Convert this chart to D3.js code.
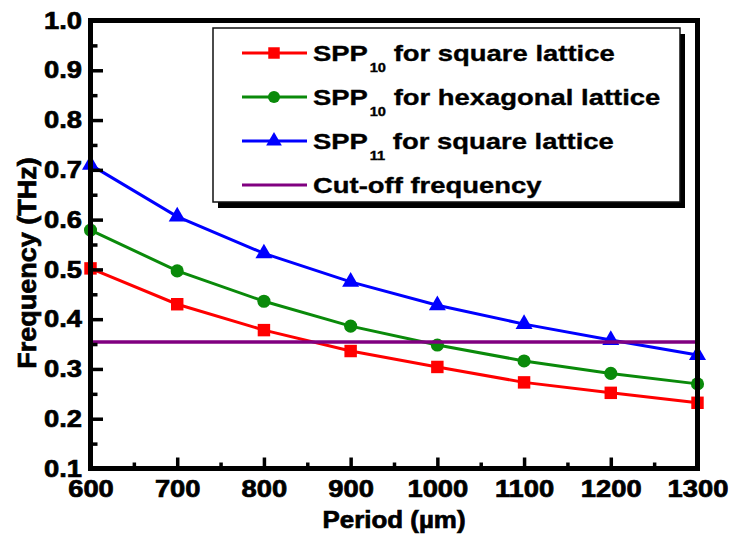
<!DOCTYPE html>
<html>
<head>
<meta charset="utf-8">
<script src="https://cdn.jsdelivr.net/npm/d3@7/dist/d3.min.js"></script>
<style>
  html, body { margin: 0; padding: 0; background: #fff; }
  svg { display: block; }
  text { font-family: "Liberation Sans", Arial, sans-serif; font-weight: bold; fill: #000; }
  .heavy { stroke: #000; stroke-width: 0.7px; }
  .legend-text { stroke: #000; stroke-width: 0.35px; }
</style>
</head>
<body>
<svg id="chart" width="731" height="535"></svg>
<script>
// Period (µm) on the x axis
const periods = [600, 700, 800, 900, 1000, 1100, 1200, 1300];

// Resonance frequencies (THz)
const spp10Square    = [0.502, 0.430, 0.378, 0.336, 0.304, 0.273, 0.252, 0.232];
const spp10Hexagonal = [0.579, 0.497, 0.436, 0.386, 0.348, 0.316, 0.291, 0.270];
const spp11Square    = [0.710, 0.606, 0.532, 0.475, 0.428, 0.390, 0.358, 0.328];
const cutoffFrequency = 0.354;

// Axis ticks
const xTicks = [600, 700, 800, 900, 1000, 1100, 1200, 1300];
const xMinorTicks = [650, 750, 850, 950, 1050, 1150, 1250];
const yTicks = [0.1, 0.2, 0.3, 0.4, 0.5, 0.6, 0.7, 0.8, 0.9, 1.0];
const yMinorTicks = [0.15, 0.25, 0.35, 0.45, 0.55, 0.65, 0.75, 0.85, 0.95];

const seriesNames = [
  { main: "SPP", sub: "10", rest: " for square lattice" },
  { main: "SPP", sub: "10", rest: " for hexagonal lattice" },
  { main: "SPP", sub: "11", rest: " for square lattice" },
  { main: "Cut-off frequency", sub: "", rest: "" }
];

const series = [
  { values: spp10Square,    color: "#ff0000", symbol: d3.symbolSquare,   size: 155 },
  { values: spp10Hexagonal, color: "#0a8a0a", symbol: d3.symbolCircle,   size: 135 },
  { values: spp11Square,    color: "#0000ff", symbol: d3.symbolTriangle, size: 125 }
];
const cutoffColor = "#800080";

const svg = d3.select("#chart");
const plot = { left: 90.5, right: 697.5, top: 20.5, bottom: 468.5 };
const textStretch = 1.14;

const x = d3.scaleLinear().domain([600, 1300]).range([plot.left, plot.right]);
const y = d3.scaleLinear().domain([0.1, 1.0]).range([plot.bottom, plot.top]);

// Data lines and markers
const line = d3.line().x((d, i) => x(periods[i])).y(d => y(d));
series.forEach(s => {
  svg.append("path")
    .attr("d", line(s.values))
    .attr("fill", "none")
    .attr("stroke", s.color)
    .attr("stroke-width", 3);
  svg.append("g").selectAll("path")
    .data(s.values)
    .join("path")
    .attr("transform", (d, i) => `translate(${x(periods[i])},${y(d)})`)
    .attr("d", d3.symbol().type(s.symbol).size(s.size))
    .attr("fill", s.color);
});

// Cut-off frequency line
svg.append("line")
  .attr("x1", x(600)).attr("x2", x(1300))
  .attr("y1", y(cutoffFrequency)).attr("y2", y(cutoffFrequency))
  .attr("stroke", cutoffColor)
  .attr("stroke-width", 3.5);

// Axes with inward ticks
function styleAxis(g) {
  g.select(".domain").remove();
  g.selectAll(".tick line").attr("stroke", "#000").attr("stroke-width", 3.5);
}

svg.append("g")
  .attr("transform", `translate(0,${plot.bottom})`)
  .call(d3.axisBottom(x).tickValues(xMinorTicks).tickSizeInner(-6).tickSizeOuter(0).tickFormat(""))
  .call(styleAxis);

const xAxis = svg.append("g")
  .attr("transform", `translate(0,${plot.bottom})`)
  .call(d3.axisBottom(x).tickValues(xTicks).tickSizeInner(-11).tickSizeOuter(0).tickPadding(11).tickFormat(d3.format("d")))
  .call(styleAxis);
xAxis.selectAll(".tick text")
  .attr("class", "heavy")
  .attr("font-size", 24)
  .attr("font-family", null)
  .attr("transform", `scale(${textStretch},1)`);

svg.append("g")
  .attr("transform", `translate(${plot.left},0)`)
  .call(d3.axisLeft(y).tickValues(yMinorTicks).tickSizeInner(-7).tickSizeOuter(0).tickFormat(""))
  .call(styleAxis);

const yAxis = svg.append("g")
  .attr("transform", `translate(${plot.left},0)`)
  .call(d3.axisLeft(y).tickValues(yTicks).tickSizeInner(-12.5).tickSizeOuter(0).tickPadding(8.5).tickFormat(d3.format(".1f")))
  .call(styleAxis);
yAxis.selectAll(".tick text")
  .attr("class", "heavy")
  .attr("font-size", 24)
  .attr("font-family", null)
  .attr("x", -8.5 / textStretch)
  .attr("transform", `scale(${textStretch},1)`);

// Frame around the plot area
svg.append("rect")
  .attr("x", plot.left).attr("y", plot.top)
  .attr("width", plot.right - plot.left).attr("height", plot.bottom - plot.top)
  .attr("fill", "none")
  .attr("stroke", "#000")
  .attr("stroke-width", 5);

// Axis titles
svg.append("text")
  .attr("class", "heavy")
  .attr("transform", `translate(${(plot.left + plot.right) / 2},528) scale(1.08,1)`)
  .attr("text-anchor", "middle")
  .attr("font-size", 24)
  .text("Period (µm)");

svg.append("text")
  .attr("class", "heavy")
  .attr("transform", "translate(36,263) rotate(-90) scale(1.08,1)")
  .attr("text-anchor", "middle")
  .attr("font-size", 25)
  .text("Frequency (THz)");

// Legend with drop shadow
const legend = { x: 213, y: 28, w: 467, h: 174 };
svg.append("rect")
  .attr("x", legend.x + 5).attr("y", legend.y + 6)
  .attr("width", legend.w).attr("height", legend.h)
  .attr("fill", "#000");
svg.append("rect")
  .attr("x", legend.x).attr("y", legend.y)
  .attr("width", legend.w).attr("height", legend.h)
  .attr("fill", "#fff")
  .attr("stroke", "#111")
  .attr("stroke-width", 1.5);

const legendRows = [53, 97, 141, 185];
const legendColors = [series[0].color, series[1].color, series[2].color, cutoffColor];
legendRows.forEach((ry, i) => {
  svg.append("line")
    .attr("x1", 242).attr("x2", 307)
    .attr("y1", ry).attr("y2", ry)
    .attr("stroke", legendColors[i])
    .attr("stroke-width", 3);
  if (i < series.length) {
    svg.append("path")
      .attr("transform", `translate(274,${ry})`)
      .attr("d", d3.symbol().type(series[i].symbol).size(series[i].size * 0.85))
      .attr("fill", legendColors[i]);
  }
  const t = svg.append("text")
    .attr("class", "legend-text")
    .attr("transform", `translate(313,${ry + 8}) scale(1.22,1)`)
    .attr("font-size", 22.5);
  const name = seriesNames[i];
  t.append("tspan").text(name.main);
  if (name.sub) {
    t.append("tspan").attr("font-size", 12).attr("dx", 1.5).attr("dy", 11).text(name.sub);
    t.append("tspan").attr("dy", -11).text(name.rest);
  }
});
</script>
</body>
</html>
